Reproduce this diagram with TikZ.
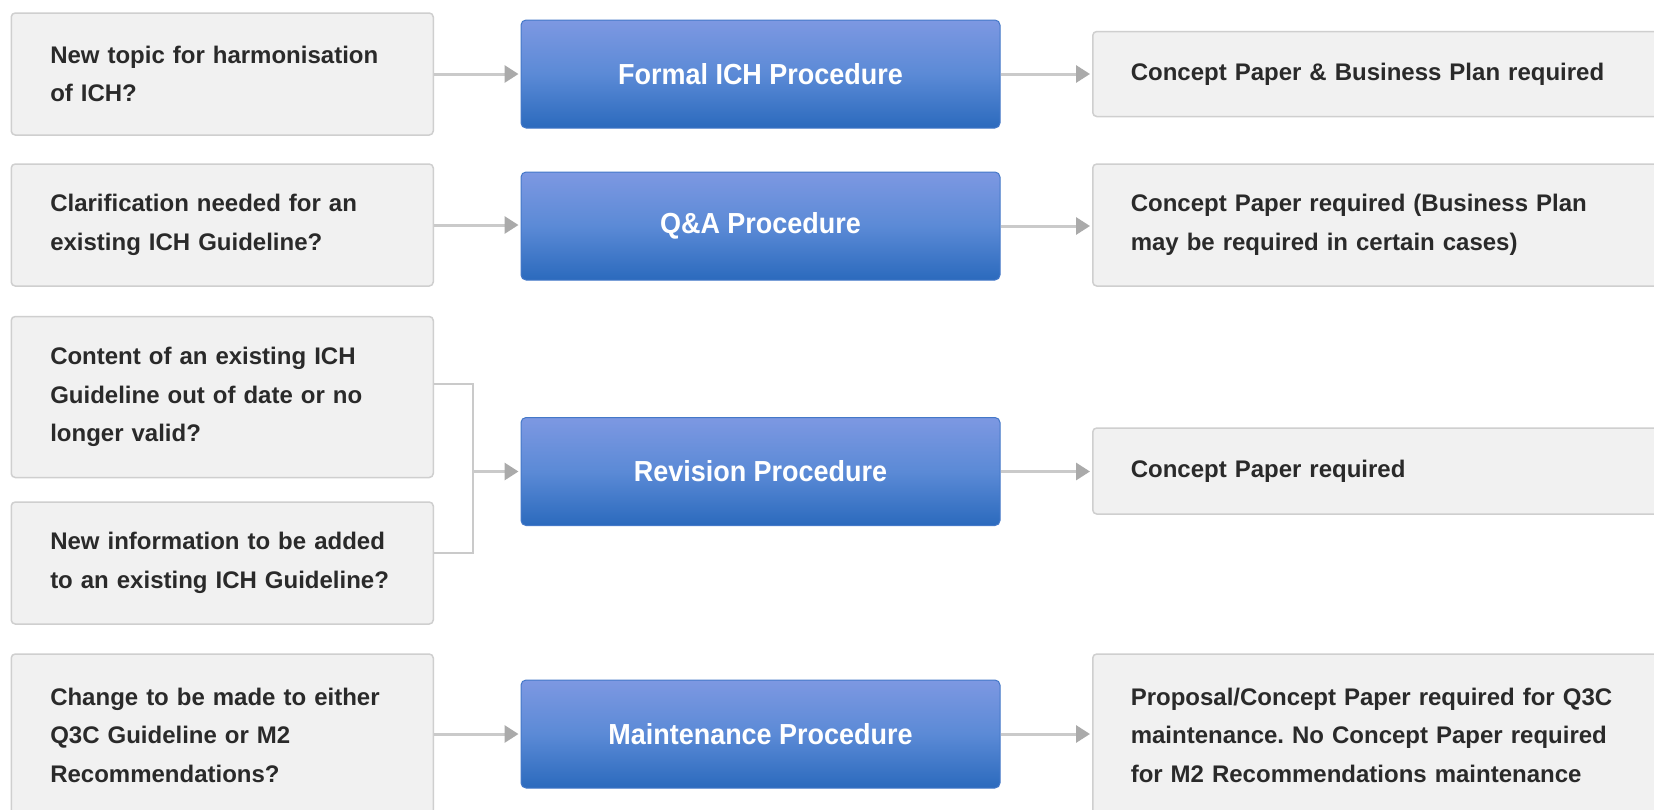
\documentclass[tikz,border=0pt]{standalone}
\usepackage{fontspec}
\setmainfont{Liberation Sans}
\newfontfamily\blfont[FakeStretch=0.93]{Liberation Sans}
\usetikzlibrary{arrows.meta}
\definecolor{boxfill}{HTML}{F1F1F1}
\definecolor{boxline}{HTML}{CFCFCF}
\definecolor{txt}{HTML}{2A2A2A}
\definecolor{bluetop}{HTML}{7D98E2}
\definecolor{bluemid}{HTML}{5B8AD6}
\definecolor{bluebot}{HTML}{2B6ABD}
\definecolor{arrline}{HTML}{CACACA}
\definecolor{arrhead}{HTML}{AAAAAA}
\frenchspacing
\begin{document}
\begin{tikzpicture}[x=1pt,y=-1pt,
  qbox/.style={draw=boxline, line width=1.5pt, fill=boxfill, rounded corners=4pt,
    text width=344pt, inner xsep=39pt, inner ysep=0pt, align=left, anchor=west,
    font=\bfseries\fontsize{24}{38.5}\selectfont\frenchspacing, text=txt},
  rbox/.style={qbox, text width=512pt, inner xsep=38pt},
  pbox/.style={rounded corners=5pt, minimum width=479pt, minimum height=108pt,
    top color=bluetop, bottom color=bluebot, middle color=bluemid,
    draw=bluebot!70!bluetop, line width=1pt, anchor=center,
    font=\blfont\bfseries\fontsize{29}{34}\selectfont, text=white},
  arr/.style={draw=arrline, line width=3pt, shorten >=2pt,
    -{Triangle[length=14pt,width=17pt,color=arrhead]}},
  brk/.style={draw=arrline, line width=2pt}
]
\useasboundingbox (0,0) rectangle (1654,809);
\clip (0,0) rectangle (1654,809);
\fill[white] (0,0) rectangle (1654,809);

% left question boxes
\node[qbox, minimum height=122pt] (q1) at (10.5,74) {New topic for harmonisation\\of ICH?};
\node[qbox, minimum height=122pt] (q2) at (10.5,225) {Clarification needed for an\\existing ICH Guideline?};
\node[qbox, minimum height=161pt] (q3) at (10.5,397) {Content of an existing ICH\\Guideline out of date or no\\longer valid?};
\node[qbox, minimum height=122pt] (q4) at (10.5,563) {New information to be added\\to an existing ICH Guideline?};
\node[qbox, minimum height=162pt] (q5) at (10.5,735) {Change to be made to either\\Q3C Guideline or M2\\Recommendations?};

% procedure boxes
\node[pbox] (p1) at (760.5,74) {Formal ICH Procedure};
\node[pbox] (p2) at (760.5,226) {Q\&A Procedure};
\node[pbox] (p3) at (760.5,471.5) {Revision Procedure};
\node[pbox] (p4) at (760.5,734) {Maintenance Procedure};

% right result boxes
\node[rbox, minimum height=85pt] (r1) at (1092,74) {Concept Paper \& Business Plan required};
\node[rbox, minimum height=122pt] (r2) at (1092,225) {Concept Paper required (Business Plan\\may be required in certain cases)};
\node[rbox, minimum height=86pt] (r3) at (1092,471) {Concept Paper required};
\node[rbox, minimum height=162pt] (r4) at (1092,735) {Proposal/Concept Paper required for Q3C\\maintenance. No Concept Paper required\\for M2 Recommendations maintenance};

% connectors left -> procedure
\draw[arr] (q1.east) -- (q1.east -| p1.west);
\draw[arr] (q2.east) -- (q2.east -| p2.west);
\draw[arr] (q5.east |- p4.west) -- (p4.west);

% bracket for revision
\coordinate (b1) at (472.6,384);
\coordinate (b2) at (472.6,553);
\coordinate (bj) at (472.6,471.5);
\draw[brk] (q3.east |- b1) -- (b1) -- (b2) -- (q4.east |- b2);
\draw[arr] (bj) -- (bj -| p3.west);

% connectors procedure -> result
\draw[arr] (p1.east) -- (p1.east -| r1.west);
\draw[arr] (p2.east) -- (p2.east -| r2.west);
\draw[arr] (p3.east) -- (p3.east -| r3.west);
\draw[arr] (p4.east) -- (p4.east -| r4.west);
\end{tikzpicture}
\end{document}
